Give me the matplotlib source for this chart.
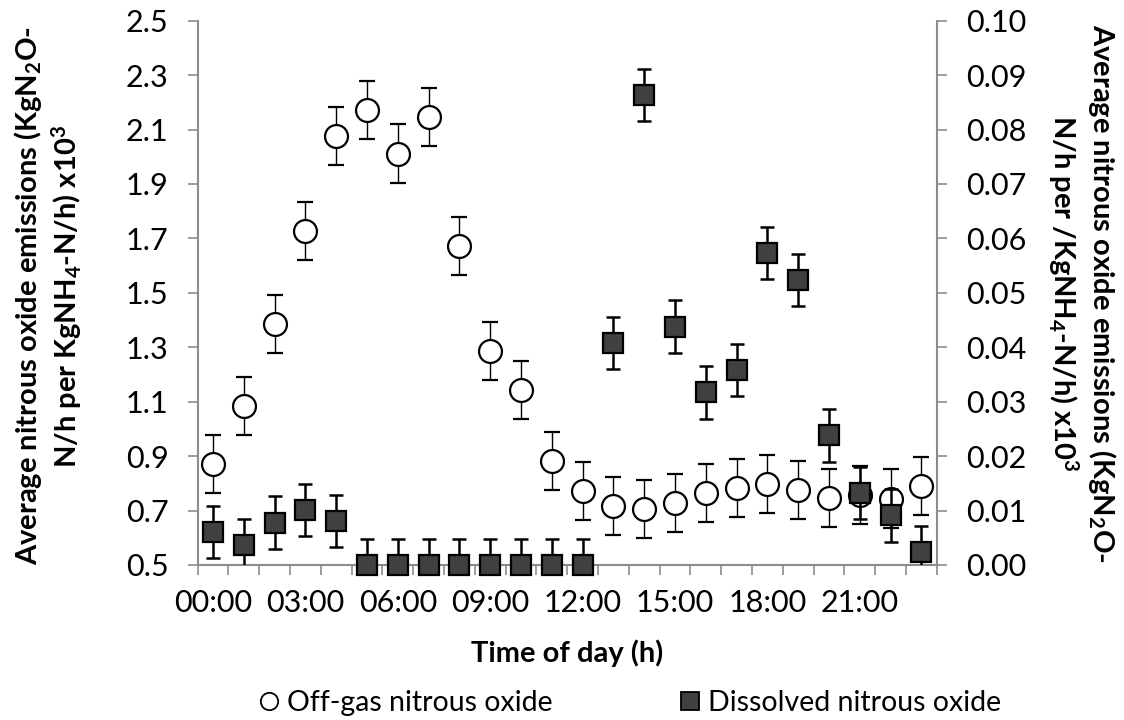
import numpy as np
import matplotlib
matplotlib.use("Agg")
import matplotlib.pyplot as plt
from matplotlib.lines import Line2D

plt.rcParams['font.family'] = ['Lato', 'DejaVu Sans']
plt.rcParams['mathtext.fontset'] = 'custom'
plt.rcParams['mathtext.rm'] = 'Lato'
plt.rcParams['mathtext.bf'] = 'Lato:bold'
plt.rcParams['mathtext.default'] = 'bf'

# hourly categories
hours = list(range(24))
hour_labels = ['00:00', '03:00', '06:00', '09:00', '12:00', '15:00', '18:00', '21:00']

# off-gas N2O (left axis)
offgas = [0.87, 1.085, 1.386, 1.727, 2.077, 2.172, 2.012, 2.147, 1.672, 1.286, 1.142, 0.881,
          0.772, 0.718, 0.706, 0.728, 0.765, 0.783, 0.799, 0.775, 0.746, 0.756, 0.744, 0.789]
offgas_err = 0.107

# dissolved N2O (right axis)
dissolved = [0.0061, 0.0037, 0.0078, 0.0101, 0.0081, 0.0, 0.0, 0.0, 0.0, 0.0, 0.0, 0.0,
             0.0, 0.0408, 0.0864, 0.0438, 0.0317, 0.0358, 0.0573, 0.0524, 0.0238, 0.0132, 0.0091, 0.0024]
dissolved_err = 0.0048

left_ticks = [0.5, 0.7, 0.9, 1.1, 1.3, 1.5, 1.7, 1.9, 2.1, 2.3, 2.5]
right_ticks = [0.0, 0.01, 0.02, 0.03, 0.04, 0.05, 0.06, 0.07, 0.08, 0.09, 0.10]

spine_col = '#8c8c8c'
tick_fs = 22
lab_fs = 21

fig = plt.figure(figsize=(11.24, 7.2), dpi=100)
ax = fig.add_axes([197.7/1124, 1-565/720, 739/1124, 544.3/720])
ax2 = ax.twinx()

ax.errorbar(hours, offgas, yerr=offgas_err, fmt='o', ms=16.5, mfc='white', mec='black', mew=1.6,
            ecolor='black', elinewidth=1.0, capsize=6, capthick=1.0, zorder=3)

ax2.errorbar(hours, dissolved, yerr=dissolved_err, fmt='none', ecolor='black', elinewidth=1.8,
             capsize=4.7, capthick=1.8, zorder=2)
ax2.plot(hours, dissolved, 's', ms=15, mfc='#404040', mec='black', mew=1.6, clip_on=False, zorder=3)

ax.set_xlim(-0.5, 23.5)
ax.set_ylim(0.5, 2.5)
ax2.set_ylim(0, 0.10)

ax.set_xticks(hours[::3])
ax.set_xticklabels(hour_labels)
ax.set_xticks(np.arange(-0.5, 24, 1), minor=True)
ax.tick_params(axis='x', which='major', length=0, pad=17, labelsize=tick_fs)
ax.tick_params(axis='x', which='minor', length=7, width=1.2, color=spine_col, direction='out')

ax.set_yticks(left_ticks)
ax.set_yticklabels(['%.1f' % v for v in left_ticks])
ax.tick_params(axis='y', length=7, width=1.2, color=spine_col, pad=14, labelsize=tick_fs)
ax2.set_yticks(right_ticks)
ax2.set_yticklabels(['%.2f' % v for v in right_ticks])
ax2.tick_params(axis='y', length=7, width=1.2, color=spine_col, pad=14, labelsize=tick_fs)

for a in (ax, ax2):
    a.spines['top'].set_visible(False)
    for s in a.spines.values():
        s.set_color(spine_col)
        s.set_linewidth(1.5)
ax.spines['right'].set_visible(False)
ax2.spines['left'].set_visible(False)
ax2.spines['bottom'].set_visible(False)

fig.text(567/1124, 1-653/720, 'Time of day (h)', ha='center', va='center', fontsize=lab_fs, fontweight='bold')

fig.text(48/1124, 1-296/720, 'Average nitrous oxide emissions (KgN$_2$O-\nN/h per KgNH$_4$-N/h) x10$^3$',
         rotation=90, ha='center', va='center', multialignment='center', fontsize=lab_fs, fontweight='bold')
fig.text(1082/1124, 1-293/720, 'Average nitrous oxide emissions (KgN$_2$O-\nN/h per /KgNH$_4$-N/h) x10$^3$',
         rotation=270, ha='center', va='center', multialignment='center', fontsize=lab_fs, fontweight='bold')

handles = [Line2D([], [], ls='none', marker='o', ms=12.5, mfc='white', mec='black', mew=1.3),
           Line2D([], [], ls='none', marker='s', ms=12.5, mfc='#404040', mec='black', mew=1.3)]
fig.legend(handles, ['Off-gas nitrous oxide', 'Dissolved nitrous oxide'], loc='center',
           bbox_to_anchor=(630/1124, 1-703/720), ncol=2, frameon=False, fontsize=20.5,
           handlelength=0.7, handletextpad=0.3, columnspacing=4.45)

fig.savefig('out.png', dpi=100)
